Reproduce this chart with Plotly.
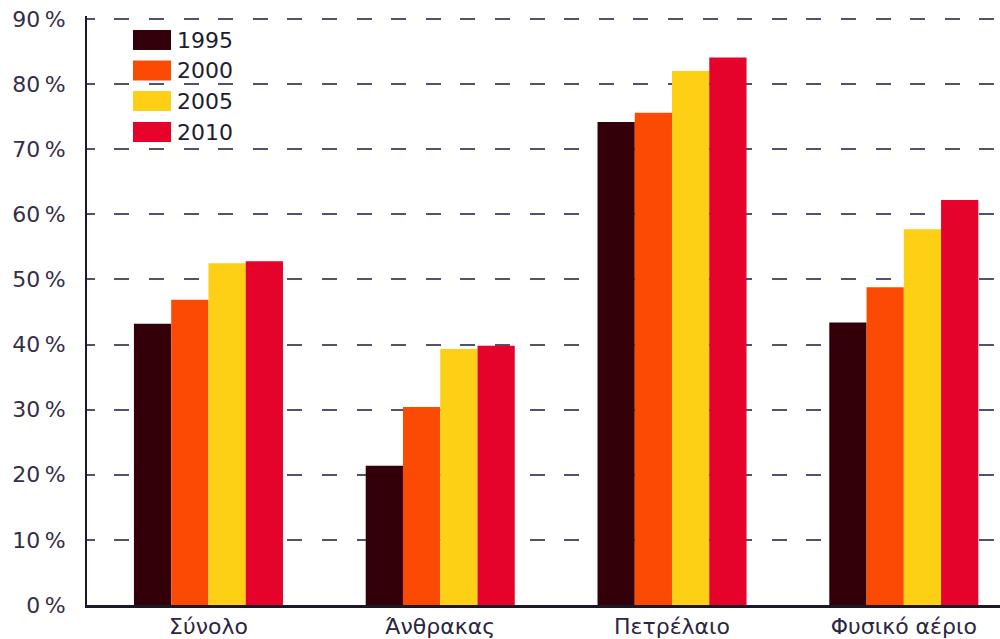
import plotly.graph_objects as go

# Share of imports in gross inland consumption, by fuel and year
categories = ["Σύνολο", "Άνθρακας", "Πετρέλαιο", "Φυσικό αέριο"]
years = ["1995", "2000", "2005", "2010"]
share_1995 = [43.2, 21.4, 74.2, 43.4]
share_2000 = [46.9, 30.4, 75.6, 48.8]
share_2005 = [52.5, 39.3, 82.0, 57.7]
share_2010 = [52.8, 39.8, 84.1, 62.2]
y_tick_values = [0, 10, 20, 30, 40, 50, 60, 70, 80, 90]
y_tick_labels = ["0\u2009%", "10\u2009%", "20\u2009%", "30\u2009%", "40\u2009%",
                 "50\u2009%", "60\u2009%", "70\u2009%", "80\u2009%", "90\u2009%"]

series = [share_1995, share_2000, share_2005, share_2010]
colors = ["#33000a", "#fb4a04", "#fdd016", "#e5032b"]

W, H = 1000, 639
ML, MR, MT, MB = 87, 0, 16, 34
PW, PH = W - ML - MR, H - MT - MB
PX_PER_UNIT = 6.511

fig = go.Figure()
for name, vals, col in zip(years, series, colors):
    fig.add_trace(go.Bar(
        x=list(range(len(categories))), y=vals, name=name,
        marker=dict(color=col, line=dict(width=0)),
        showlegend=False,
    ))

font_family = "DejaVu Sans"
axis_col = "#1c1828"
text_col = "#362e46"

fig.update_layout(
    width=W, height=H,
    margin=dict(l=ML, r=MR, t=MT, b=MB, pad=0),
    paper_bgcolor="white", plot_bgcolor="white",
    barmode="group", bargap=0.357, bargroupgap=0,
    font=dict(family=font_family, color=text_col),
)

fig.update_xaxes(
    range=[-0.524, 3.415], automargin=False,
    tickmode="array", tickvals=list(range(len(categories))), ticktext=categories,
    tickfont=dict(size=22, color="#2c2640", family=font_family),
    showgrid=False, zeroline=False,
    showline=True, linecolor=axis_col, linewidth=2.5,
    ticks="", ticklabelstandoff=0,
)
fig.update_yaxes(
    range=[0, PH / PX_PER_UNIT], automargin=False,
    tickmode="array", tickvals=y_tick_values, ticktext=y_tick_labels,
    tickfont=dict(size=22, color=text_col, family=font_family),
    showgrid=True, gridcolor="#55506e", gridwidth=1.8,
    griddash="7.7px,19.6px,7.3px,0px",
    zeroline=False,
    showline=True, linecolor=axis_col, linewidth=2,
    ticks="", ticklabelstandoff=15,
)


def px_x(px):
    return (px - ML) / PW


def px_y(py):
    return (H - MB - py) / PH


# Legend block: swatches and year labels in the upper-left corner
sw_left, sw_w, sw_h = 133, 38, 20
row_tops = [30, 60.5, 91, 122]
for name, col, top in zip(years, colors, row_tops):
    fig.add_shape(
        type="rect", xref="paper", yref="paper",
        x0=px_x(sw_left), x1=px_x(sw_left + sw_w),
        y0=px_y(top + sw_h), y1=px_y(top),
        fillcolor=col, line=dict(width=0), layer="above",
    )
    fig.add_annotation(
        xref="paper", yref="paper",
        x=px_x(sw_left + sw_w + 4), y=px_y(top + sw_h / 2),
        text=name, showarrow=False, xanchor="left", yanchor="middle",
        font=dict(size=22, color="#221c30", family=font_family),
    )

fig.write_html("out.html")
